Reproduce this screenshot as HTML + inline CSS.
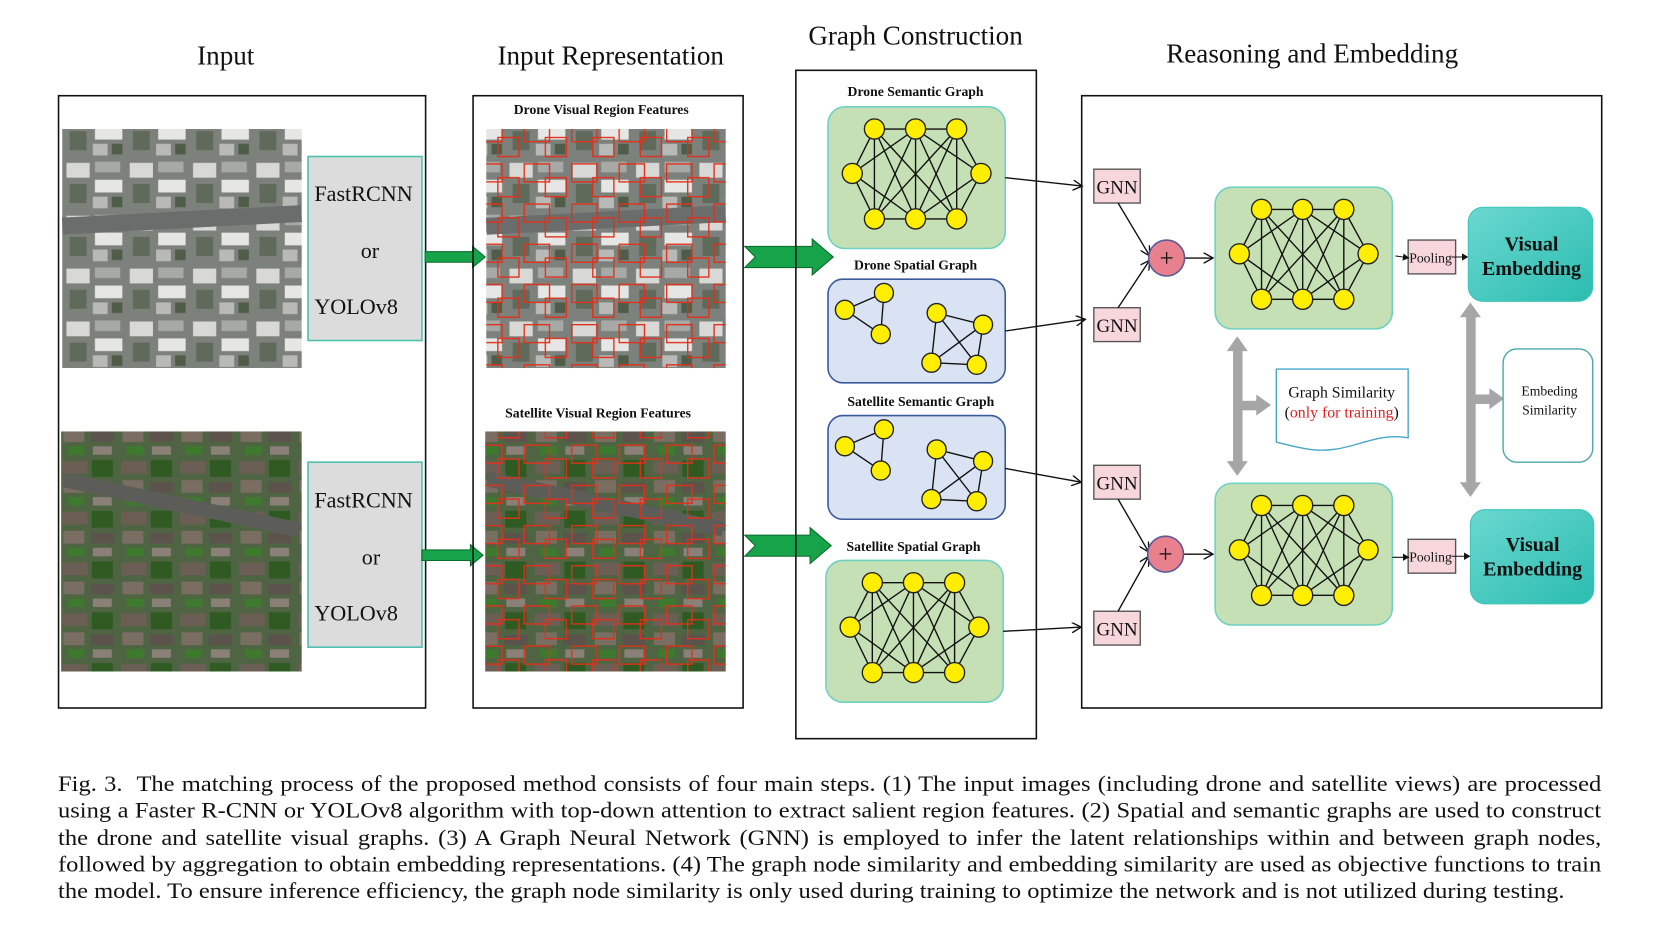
<!DOCTYPE html>
<html><head><meta charset="utf-8"><style>
html,body{margin:0;padding:0;background:#fff;}
#wrap{position:relative;width:1560px;height:882px;transform:scale(1.0548,1.0575);transform-origin:0 0;font-family:"Liberation Serif",serif;}
svg{position:absolute;left:0;top:0;}
.cap{position:absolute;left:55px;width:1322px;font-size:21px;line-height:25.3px;top:729px;color:#111;transform:scaleX(1.1067);transform-origin:0 0;}
.cap div{text-align:justify;text-align-last:justify;white-space:nowrap;}
.cap div.l{text-align-last:left;}
</style></head><body><div id="wrap">
<svg width="1560" height="882" viewBox="0 0 1560 882" font-family="Liberation Serif, serif">
<defs>
<marker id="ah" markerWidth="10" markerHeight="10" refX="9" refY="5" orient="auto" markerUnits="userSpaceOnUse"><path d="M0,0 L9,5 L0,10" fill="none" stroke="#111" stroke-width="1.3"/></marker>
<marker id="sh" markerWidth="7" markerHeight="7" refX="6" refY="3.5" orient="auto" markerUnits="userSpaceOnUse"><path d="M0,0 L6,3.5 L0,7z" fill="#111"/></marker>
<pattern id="city" width="60" height="50" patternUnits="userSpaceOnUse">
<rect width="60" height="50" fill="#7d817c"/>
<rect x="3" y="4" width="22" height="14" fill="#d8d8d6"/><rect x="30" y="3" width="24" height="10" fill="#a7a9a6"/>
<rect x="6" y="24" width="16" height="18" fill="#5f6a5a"/><rect x="30" y="20" width="26" height="12" fill="#e6e6e4"/>
<rect x="28" y="36" width="14" height="11" fill="#b9bab7"/><rect x="46" y="36" width="10" height="10" fill="#4f5d48"/>
</pattern>
<pattern id="sat" width="56" height="48" patternUnits="userSpaceOnUse">
<rect width="56" height="48" fill="#4f6442"/>
<rect x="3" y="4" width="24" height="12" fill="#6b5f55"/><rect x="31" y="3" width="20" height="16" fill="#2f5a22"/>
<rect x="4" y="22" width="20" height="12" fill="#7a6e62"/><rect x="30" y="24" width="22" height="10" fill="#5b534c"/>
<rect x="8" y="38" width="16" height="8" fill="#3e7a2e"/><rect x="32" y="38" width="18" height="8" fill="#8a8078"/>
</pattern>
<pattern id="rb" width="45" height="38" patternUnits="userSpaceOnUse">
<rect x="2" y="3" width="24" height="17" fill="none" stroke="#e0301a" stroke-width="1.3"/>
<rect x="22" y="16" width="20" height="18" fill="none" stroke="#e0301a" stroke-width="1.3"/>
</pattern>
<g id="sem">
<rect x="0" y="0" width="168" height="134" rx="16" fill="#c5e0b4" stroke="#6fd0c4" stroke-width="1.5"/>
<g stroke="#111" stroke-width="1.3">
<line x1="44" y1="21" x2="122" y2="21"/><line x1="44" y1="106" x2="122" y2="106"/>
<line x1="23" y1="63" x2="44" y2="21"/><line x1="23" y1="63" x2="44" y2="106"/><line x1="23" y1="63" x2="83" y2="21"/><line x1="23" y1="63" x2="83" y2="106"/>
<line x1="145" y1="63" x2="122" y2="21"/><line x1="145" y1="63" x2="122" y2="106"/><line x1="145" y1="63" x2="83" y2="21"/><line x1="145" y1="63" x2="83" y2="106"/>
<line x1="44" y1="21" x2="44" y2="106"/><line x1="44" y1="21" x2="83" y2="106"/><line x1="44" y1="21" x2="122" y2="106"/>
<line x1="83" y1="21" x2="44" y2="106"/><line x1="83" y1="21" x2="83" y2="106"/><line x1="83" y1="21" x2="122" y2="106"/>
<line x1="122" y1="21" x2="44" y2="106"/><line x1="122" y1="21" x2="83" y2="106"/><line x1="122" y1="21" x2="122" y2="106"/>
</g>
<g fill="#ffee00" stroke="#222" stroke-width="1.3">
<circle cx="44" cy="21" r="9.5"/><circle cx="83" cy="21" r="9.5"/><circle cx="122" cy="21" r="9.5"/>
<circle cx="23" cy="63" r="9.5"/><circle cx="145" cy="63" r="9.5"/>
<circle cx="44" cy="106" r="9.5"/><circle cx="83" cy="106" r="9.5"/><circle cx="122" cy="106" r="9.5"/>
</g></g>
<g id="spa">
<rect x="0" y="0" width="168" height="98" rx="14" fill="#dae3f3" stroke="#3a5a9a" stroke-width="1.5"/>
<g stroke="#111" stroke-width="1.3">
<line x1="16" y1="29" x2="53" y2="13"/><line x1="16" y1="29" x2="50" y2="52"/><line x1="53" y1="13" x2="50" y2="52"/>
<line x1="103" y1="32" x2="147" y2="43"/><line x1="103" y1="32" x2="98" y2="79"/><line x1="103" y1="32" x2="141" y2="81"/>
<line x1="147" y1="43" x2="98" y2="79"/><line x1="147" y1="43" x2="141" y2="81"/><line x1="98" y1="79" x2="141" y2="81"/>
</g>
<g fill="#ffee00" stroke="#222" stroke-width="1.3">
<circle cx="16" cy="29" r="9"/><circle cx="53" cy="13" r="9"/><circle cx="50" cy="52" r="9"/>
<circle cx="103" cy="32" r="9"/><circle cx="147" cy="43" r="9"/><circle cx="98" cy="79" r="9"/><circle cx="141" cy="81" r="9"/>
</g></g>
</defs>

<g font-size="25.7" text-anchor="middle" fill="#111">
<text x="214" y="61">Input</text>
<text x="579" y="61">Input Representation</text>
<text x="868" y="42">Graph Construction</text>
<text x="1244" y="59">Reasoning and Embedding</text>
</g>

<rect x="55.5" y="90.5" width="348" height="579" fill="none" stroke="#111" stroke-width="1.5"/>
<rect x="59" y="122" width="227" height="226" fill="url(#city)"/>
<rect x="59" y="200" width="227" height="16" fill="#6a6d6c" transform="rotate(-3 170 208)"/>
<rect x="58" y="408" width="228" height="227" fill="url(#sat)"/>
<rect x="58" y="470" width="228" height="14" fill="#5c5d59" transform="rotate(12 170 477)"/>
<g fill="#dcdcdc" stroke="#4fbfb0" stroke-width="1.5">
<rect x="292" y="148" width="108" height="174"/><rect x="292" y="437" width="108" height="175"/></g>
<g font-size="21" fill="#111">
<text x="298" y="190">FastRCNN</text><text x="342" y="244">or</text><text x="298" y="297">YOLOv8</text>
<text x="298" y="480">FastRCNN</text><text x="343" y="534">or</text><text x="298" y="587">YOLOv8</text></g>
<g fill="#16a34a" stroke="#0b6b2c" stroke-width="1">
<path d="M403,238 H448 V233 L460,243 L448,253 V248 H403z"/>
<path d="M400,520 H446 V515 L458,525 L446,535 V530 H400z"/>
<path d="M706,233 H770 V226 L790,243 L770,260 V253 H706 L716,243z"/>
<path d="M706,506 H768 V499 L788,516 L768,533 V526 H706 L716,516z"/>
</g>

<rect x="448.5" y="90.5" width="256" height="579" fill="none" stroke="#111" stroke-width="1.5"/>
<g font-size="13" font-weight="bold" text-anchor="middle" fill="#111">
<text x="570" y="108">Drone Visual Region Features</text>
<text x="567" y="395">Satellite Visual Region Features</text></g>
<rect x="461" y="122" width="227" height="226" fill="url(#city)"/>
<rect x="461" y="200" width="227" height="16" fill="#6a6d6c" transform="rotate(-3 575 208)"/>
<rect x="461" y="122" width="227" height="226" fill="url(#rb)"/>
<rect x="460" y="408" width="228" height="227" fill="url(#sat)"/>
<rect x="460" y="470" width="228" height="14" fill="#5c5d59" transform="rotate(12 575 477)"/>
<rect x="460" y="408" width="228" height="227" fill="url(#rb)"/>

<rect x="754.5" y="66.5" width="228" height="632" fill="none" stroke="#111" stroke-width="1.5"/>
<g font-size="13" font-weight="bold" text-anchor="middle" fill="#111">
<text x="868" y="91">Drone Semantic Graph</text>
<text x="868" y="255">Drone Spatial Graph</text>
<text x="873" y="384">Satellite Semantic Graph</text>
<text x="866" y="521">Satellite Spatial Graph</text></g>
<use href="#sem" x="785" y="101"/>
<use href="#spa" x="785" y="264"/>
<use href="#spa" x="785" y="393"/>
<use href="#sem" x="783" y="530"/>

<g stroke="#111" stroke-width="1.3" marker-end="url(#ah)">
<line x1="953" y1="168" x2="1026" y2="176"/>
<line x1="953" y1="313" x2="1029" y2="302"/>
<line x1="953" y1="443" x2="1025" y2="456"/>
<line x1="951" y1="597" x2="1025" y2="593"/>
</g>

<rect x="1025.5" y="90.5" width="493" height="579" fill="none" stroke="#111" stroke-width="1.5"/>
<g fill="#f8d7dc" stroke="#555" stroke-width="1.3">
<rect x="1037" y="160" width="44" height="32"/><rect x="1037" y="291" width="44" height="32"/>
<rect x="1037" y="440" width="44" height="32"/><rect x="1037" y="578" width="44" height="32"/></g>
<g font-size="18" fill="#111" text-anchor="middle">
<text x="1059" y="183">GNN</text><text x="1059" y="314">GNN</text><text x="1059" y="463">GNN</text><text x="1059" y="601">GNN</text></g>
<g stroke="#111" stroke-width="1.3" fill="none">
<line x1="1060" y1="192" x2="1090" y2="242" marker-end="url(#ah)"/>
<line x1="1060" y1="291" x2="1090" y2="246" marker-end="url(#ah)"/>
<line x1="1060" y1="472" x2="1089" y2="522" marker-end="url(#ah)"/>
<line x1="1060" y1="578" x2="1089" y2="526" marker-end="url(#ah)"/>
<line x1="1123" y1="244" x2="1150" y2="244" marker-end="url(#ah)"/>
<line x1="1122" y1="524" x2="1150" y2="524" marker-end="url(#ah)"/>
</g>
<g fill="#e8808e" stroke="#5a5a9a" stroke-width="1.5">
<circle cx="1106" cy="244" r="17"/><circle cx="1105" cy="524" r="17"/></g>
<g font-size="24" text-anchor="middle" fill="#111"><text x="1106" y="252">+</text><text x="1105" y="532">+</text></g>
<use href="#sem" x="1152" y="177"/>
<use href="#sem" x="1152" y="457"/>
<g fill="#f8d7dc" stroke="#555" stroke-width="1.3">
<rect x="1335" y="227" width="45" height="32"/><rect x="1335" y="510" width="45" height="32"/></g>
<g font-size="13" fill="#111"><text x="1336" y="248">Pooling</text><text x="1336" y="531">Pooling</text></g>
<g stroke="#111" stroke-width="1" marker-end="url(#sh)">
<line x1="1323" y1="242" x2="1336" y2="244"/><line x1="1376" y1="243" x2="1392" y2="243"/>
<line x1="1320" y1="527" x2="1336" y2="527"/><line x1="1376" y1="526" x2="1394" y2="526"/></g>
<defs><linearGradient id="tg" x1="0" y1="0" x2="1" y2="1"><stop offset="0" stop-color="#6ad8d0"/><stop offset="1" stop-color="#2bbcb0"/></linearGradient></defs>
<g fill="url(#tg)" stroke="#3cc4b8" stroke-width="1">
<rect x="1392" y="196" width="118" height="89" rx="14"/><rect x="1394" y="482" width="117" height="89" rx="14"/></g>
<g font-size="19" font-weight="bold" text-anchor="middle" fill="#111">
<text x="1452" y="237">Visual</text><text x="1452" y="260">Embedding</text>
<text x="1453" y="521">Visual</text><text x="1453" y="544">Embedding</text></g>
<g fill="#a6a6a6">
<rect x="1169" y="330" width="9" height="108"/>
<path d="M1173,318 L1183,332 L1163,332z"/><path d="M1173,450 L1183,436 L1163,436z"/>
<rect x="1177" y="379" width="16" height="9"/><path d="M1205,383 L1191,373 L1191,393z"/>
<rect x="1390" y="299" width="9" height="159"/>
<path d="M1394,286 L1404,300 L1384,300z"/><path d="M1394,470 L1404,456 L1384,456z"/>
<rect x="1398" y="373" width="16" height="9"/><path d="M1426,377 L1412,367 L1412,387z"/>
</g>
<path d="M1210,349 H1335 V414 C1300,408 1280,430 1242,425 C1228,423 1218,420 1210,418z" fill="#fff" stroke="#4aa6c8" stroke-width="1.3"/>
<text x="1272" y="376" font-size="15" text-anchor="middle" fill="#111">Graph Similarity</text>
<text x="1272" y="395" font-size="15" text-anchor="middle" fill="#111">(<tspan fill="#e02020">only for training</tspan>)</text>
<rect x="1425" y="330" width="85" height="107" rx="13" fill="#fff" stroke="#4aa6a8" stroke-width="1.3"/>
<g font-size="13" text-anchor="middle" fill="#111"><text x="1469" y="374">Embeding</text><text x="1469" y="392">Similarity</text></g>
</svg>
<div class="cap">
<div>Fig. 3.&nbsp; The matching process of the proposed method consists of four main steps. (1) The input images (including drone and satellite views) are processed</div>
<div>using a Faster R-CNN or YOLOv8 algorithm with top-down attention to extract salient region features. (2) Spatial and semantic graphs are used to construct</div>
<div>the drone and satellite visual graphs. (3) A Graph Neural Network (GNN) is employed to infer the latent relationships within and between graph nodes,</div>
<div>followed by aggregation to obtain embedding representations. (4) The graph node similarity and embedding similarity are used as objective functions to train</div>
<div class="l">the model. To ensure inference efficiency, the graph node similarity is only used during training to optimize the network and is not utilized during testing.</div>
</div>
</div></body></html>
